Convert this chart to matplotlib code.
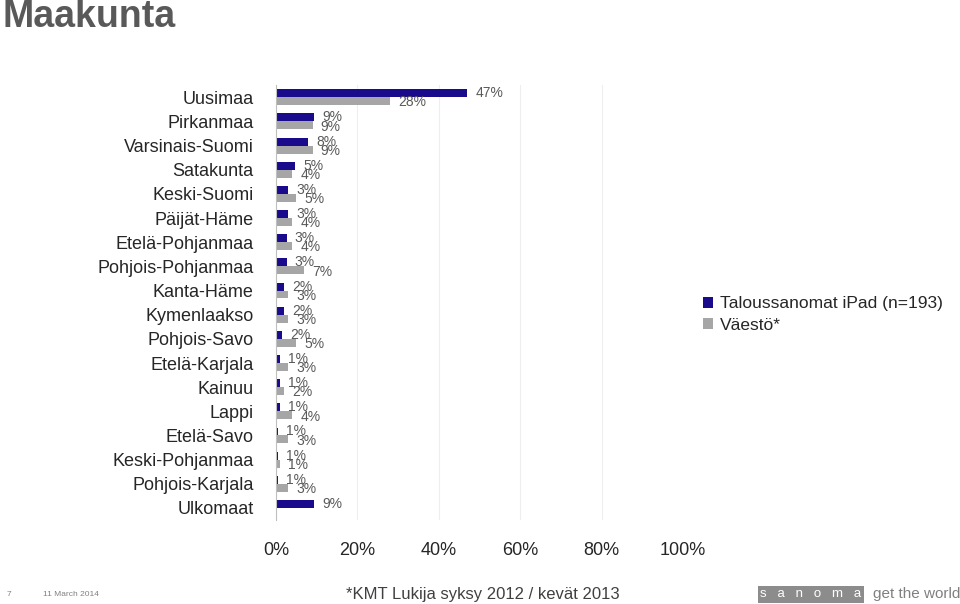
import numpy as np
import matplotlib.pyplot as plt

plt.rcParams['font.family'] = ['Liberation Sans', 'DejaVu Sans']

categories = ["Uusimaa", "Pirkanmaa", "Varsinais-Suomi", "Satakunta", "Keski-Suomi",
              "Päijät-Häme", "Etelä-Pohjanmaa", "Pohjois-Pohjanmaa", "Kanta-Häme",
              "Kymenlaakso", "Pohjois-Savo", "Etelä-Karjala", "Kainuu", "Lappi",
              "Etelä-Savo", "Keski-Pohjanmaa", "Pohjois-Karjala", "Ulkomaat"]
ipad = [47, 9, 8, 5, 3, 3, 3, 3, 2, 2, 2, 1, 1, 1, 1, 1, 1, 9]
vaesto = [28, 9, 9, 4, 5, 4, 4, 7, 3, 3, 5, 3, 2, 4, 3, 1, 3, None]
# drawn bar widths (small shares are shown slightly narrower in the original)
ipad_draw = [47, 9.3, 7.8, 4.7, 3.0, 3.0, 2.6, 2.6, 2.0, 2.0, 1.5, 1.0, 1.0, 1.0, 0.5, 0.5, 0.5, 9.3]
vaesto_draw = [28, 9.0, 9.0, 4.0, 5.0, 4.0, 4.0, 7.0, 3.0, 3.0, 5.0, 3.0, 2.0, 4.0, 3.0, 1.0, 3.0, 0]

dark = "#1a0a8c"
grey = "#a6a6a6"
txt = "#595959"

fig = plt.figure(figsize=(9.6, 6.04), dpi=100)
ax = fig.add_axes([0.2875, 0.139, 0.424, 0.72])

y = np.arange(len(categories))
h = 0.33
ax.barh(y - h / 2, ipad_draw, height=h, color=dark, label="Taloussanomat iPad (n=193)")
ax.barh(y + h / 2, vaesto_draw, height=h, color=grey, label="Väestö*")

for i in range(len(categories)):
    ax.text(ipad_draw[i] + 2, y[i] - h / 2, f"{ipad[i]}%", va="center", ha="left",
            fontsize=10, color=txt)
    if vaesto[i] is not None:
        ax.text(vaesto_draw[i] + 2, y[i] + h / 2 + 0.05, f"{vaesto[i]}%", va="center",
                ha="left", fontsize=10, color=txt)

ax.set_ylim(len(categories) - 0.5, -0.5)
ax.set_xlim(0, 100)
ax.set_xticks(np.arange(0, 101, 20))
ax.set_xticklabels([f"{v}%" for v in range(0, 101, 20)], fontsize=13, color="#262626")
ax.set_yticks(y)
ax.set_yticklabels(categories, fontsize=13, color="#262626")
ax.tick_params(axis="x", length=0, pad=16)
ax.tick_params(axis="y", length=0, pad=16)
ax.grid(axis="x", color="#eeeeee", linewidth=0.8)
ax.set_axisbelow(True)
for s in ["top", "right", "bottom"]:
    ax.spines[s].set_visible(False)
ax.spines["left"].set_color("#bfbfbf")

leg = fig.legend(loc="upper left", bbox_to_anchor=(0.716, 0.535), frameon=False,
                 fontsize=12.5, handlelength=0.6, handleheight=0.6, handletextpad=0.4,
                 labelspacing=0.35)
for t in leg.get_texts():
    t.set_color("#262626")

fig.text(0.003, 0.972, "Maakunta", fontsize=27, fontweight="bold", color="#595959", va="center")
fig.text(0.007, 0.016, "7", fontsize=6, color="#808080", va="center")
fig.text(0.045, 0.016, "11 March 2014", fontsize=6, color="#808080", va="center")
fig.text(0.36, 0.016, "*KMT Lukija syksy 2012 / kevät 2013", fontsize=12, color="#404040", va="center")
fig.text(0.792, 0.016, "s   a   n   o   m   a", fontsize=9.5, color="white", va="center",
         bbox=dict(boxstyle="square,pad=0.2", fc="#8c8c8c", ec="none"))
fig.text(0.909, 0.016, "get the world", fontsize=11, color="#808080", va="center")

fig.savefig("out.png", dpi=100)
